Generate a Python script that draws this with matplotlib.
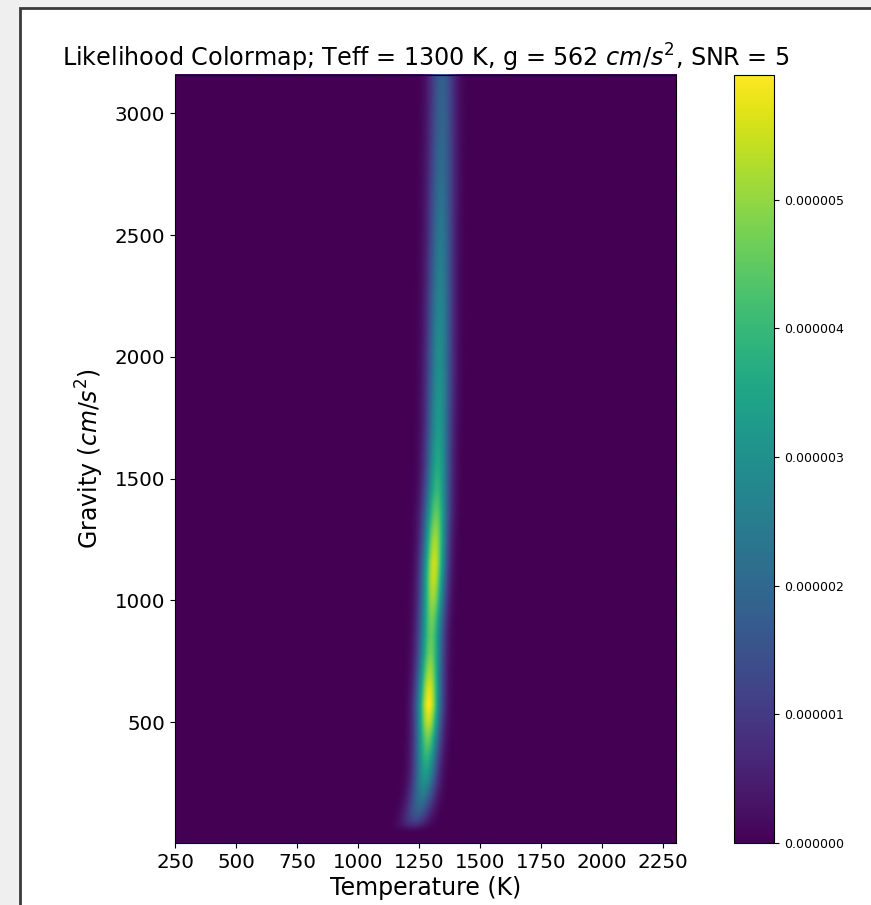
import numpy as np
import matplotlib
matplotlib.use("Agg")
import matplotlib.pyplot as plt
from matplotlib.patches import Rectangle
from matplotlib.image import NonUniformImage
from matplotlib.ticker import FormatStrFormatter

# Ridge description (per gravity row)
gravity = [3.16, 45, 60, 75, 95, 120, 150, 200, 250, 300, 360, 430, 500, 570, 640, 700,
           780, 850, 920, 1000, 1080, 1150, 1250, 1350, 1450, 1550, 1700, 1900,
           2100, 2300, 2500, 2700, 2900, 3162]
peak_temp = [1215, 1217, 1220, 1226, 1233, 1241, 1250, 1262, 1270, 1275, 1279, 1283, 1286, 1288, 1290, 1292,
             1295, 1297, 1300, 1304, 1307, 1310, 1314, 1318, 1322, 1325, 1328, 1331,
             1333, 1335, 1337, 1339, 1341, 1343]
peak_like = [0.0, 0.0, 0.25, 0.7, 1.2, 1.6, 1.95, 2.45, 2.95, 3.4, 3.9, 4.6, 5.4, 5.97, 5.6, 5.15,
             4.65, 4.5, 4.65, 5.05, 5.4, 5.5, 5.15, 4.55, 3.95, 3.6, 3.25, 3.0,
             2.85, 2.62, 2.4, 2.15, 1.97, 1.8]   # in units of 1e-6
ridge_width = [40, 40, 40, 39, 38, 37, 36, 35, 34, 33, 33, 33, 33, 33, 33, 33,
               33, 33, 33, 33, 33, 33, 33, 34, 34, 34, 34, 35,
               35, 35, 35, 36, 36, 36]

temps = np.arange(250, 2301, 2)
cbar_ticks = [0, 1e-6, 2e-6, 3e-6, 4e-6, 5e-6]

g = np.array(gravity, dtype=float)
Z = np.array([a * 1e-6 * np.exp(-0.5 * ((temps - c) / w) ** 2)
              for c, a, w in zip(peak_temp, peak_like, ridge_width)])

fig = plt.figure(figsize=(8.71, 9.05), dpi=100, facecolor="#efefef")
fig.patches.append(Rectangle((20 / 871, -0.05), 1.0, 1.05 - 8 / 905,
                             transform=fig.transFigure, facecolor="white",
                             edgecolor="#3a3a3a", linewidth=2, zorder=-1))

ax = fig.add_axes([175 / 871, 1 - 843 / 905, (676 - 175) / 871, (843 - 75) / 905])
im = NonUniformImage(ax, interpolation="bilinear", cmap="viridis",
                     extent=(250, 2303, 3.16, 3158))
im.set_data(temps.astype(float), g, Z)
im.set_clim(0, Z.max())
ax.add_image(im)
ax.set_facecolor(plt.get_cmap("viridis")(0.0))
ax.set_xlim(250, 2303)
ax.set_ylim(3.16, 3158)
ax.set_xticks(np.arange(250, 2251, 250))
ax.set_yticks([500, 1000, 1500, 2000, 2500, 3000])
ax.tick_params(labelsize=14.3)
ax.set_xlabel("Temperature (K)", fontsize=17, labelpad=3)
ax.set_ylabel("Gravity ($cm/s^2$)", fontsize=17, labelpad=6)
ax.set_title("Likelihood Colormap; Teff = 1300 K, g = 562 $cm/s^2$, SNR = 5",
             fontsize=17.2, pad=6)

cax = fig.add_axes([734 / 871, 1 - 843 / 905, 40 / 871, (843 - 75) / 905])
cb = fig.colorbar(im, cax=cax, ticks=cbar_ticks)
cb.ax.yaxis.set_major_formatter(FormatStrFormatter("%.6f"))
cb.ax.tick_params(labelsize=9)

fig.savefig("out.png", dpi=100, facecolor=fig.get_facecolor())
